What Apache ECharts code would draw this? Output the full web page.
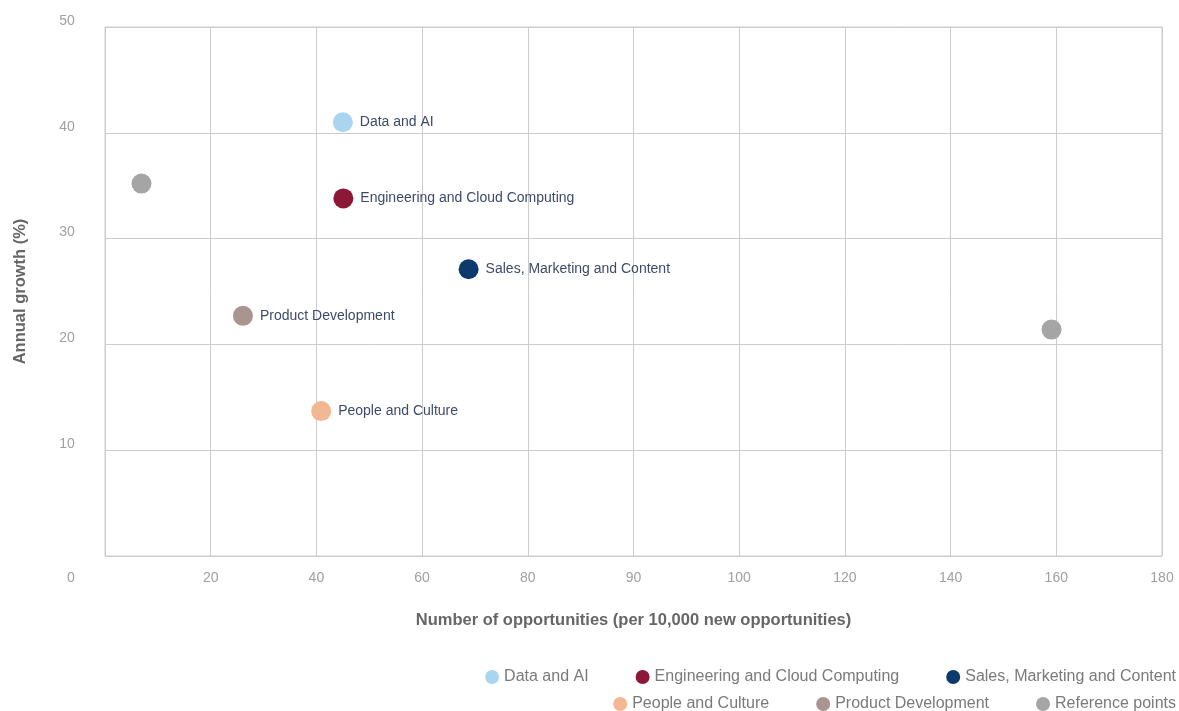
<!DOCTYPE html>
<html>
<head>
<meta charset="utf-8">
<script src="https://cdn.jsdelivr.net/npm/echarts@6/dist/echarts.min.js"></script>
<style>html,body{margin:0;padding:0;background:#fff}#c{width:1179px;height:711px}</style>
</head>
<body>
<div id="c"></div>
<script>
// Tick labels (axis is drawn in evenly spaced units of 20; labels as printed)
const xTickLabels = ['0','20','40','60','80','90','100','120','140','160','180'];
const yTickLabels = ['', '10', '20', '30', '40', '50'];

const seriesNames = ['Data and AI','Engineering and Cloud Computing','Sales, Marketing and Content','People and Culture','Product Development','Reference points'];
const seriesColors = ['#a9d5ee','#8c1737','#0c3a6c','#f3b793','#a99490','#a5a5a5'];

// [x (axis units), y (%)]
const dataAI = [[45.0, 41.0]];
const engineering = [[45.1, 33.8]];
const sales = [[68.8, 27.1]];
const people = [[40.9, 13.7]];
const product = [[26.1, 22.7]];
const referencePoints = [[6.9, 35.2],[179.1, 21.4]];

const allData = [dataAI, engineering, sales, people, product, referencePoints];

const chart = echarts.init(document.getElementById('c'));
const font = 'Liberation Sans, Arial, sans-serif';
const series = seriesNames.map((n, i) => ({
  name: n,
  type: 'scatter',
  symbol: 'circle',
  symbolSize: 20,
  itemStyle: {color: seriesColors[i], opacity: 1},
  data: allData[i],
  label: {
    show: n !== 'Reference points',
    position: 'right',
    distance: 7,
    formatter: n,
    color: '#3d4a6a',
    fontSize: 14,
    fontFamily: font
  },
  emphasis: {disabled: true}
}));

chart.setOption({
  animation: false,
  textStyle: {fontFamily: font},
  grid: {left: 105, right: 17, top: 27, bottom: 155, show: true, borderColor: '#cccccc', borderWidth: 1,
         containLabel: false, outerBoundsMode: 'none'},
  xAxis: {
    type: 'value', min: 0, max: 200, interval: 20,
    name: 'Number of opportunities (per 10,000 new opportunities)',
    nameLocation: 'middle', nameGap: 56,
    nameTextStyle: {color: '#666', fontWeight: 'bold', fontSize: 16.5, fontFamily: font},
    axisLine: {show: false}, axisTick: {show: false},
    splitLine: {show: true, lineStyle: {color: '#cccccc', width: 1}},
    axisLabel: {
      color: '#a0a0a0', fontSize: 14, margin: 15, fontFamily: font,
      formatter: v => { const l = xTickLabels[Math.round(v/20)]; return v === 0 ? '{z|' + l + '}' : l; },
      rich: {z: {padding: [0, 68, 0, 0], color: '#a0a0a0', fontSize: 14, fontFamily: font}}
    }
  },
  yAxis: {
    type: 'value', min: 0, max: 50, interval: 10,
    name: 'Annual growth (%)',
    nameLocation: 'middle', nameGap: 76, nameRotate: 90,
    nameTextStyle: {color: '#666', fontWeight: 'bold', fontSize: 16.5, fontFamily: font},
    axisLine: {show: false}, axisTick: {show: false},
    splitLine: {show: true, lineStyle: {color: '#cccccc', width: 1}},
    axisLabel: {
      color: '#a0a0a0', fontSize: 14, margin: 38, fontFamily: font, align: 'center',
      verticalAlign: 'bottom', lineHeight: 12,
      formatter: v => yTickLabels[Math.round(v/10)]
    }
  },
  legend: [
    {data: seriesNames.slice(0,3), right: 3, top: 669, padding: 0, icon: 'circle', itemWidth: 14, itemHeight: 14, itemGap: 47,
     textStyle: {color: '#7a7a7a', fontSize: 16, fontFamily: font}, selectedMode: false},
    {data: seriesNames.slice(3), right: 3, top: 696, padding: 0, icon: 'circle', itemWidth: 14, itemHeight: 14, itemGap: 47,
     textStyle: {color: '#7a7a7a', fontSize: 16, fontFamily: font}, selectedMode: false}
  ],
  series: series
});
</script>
</body>
</html>
